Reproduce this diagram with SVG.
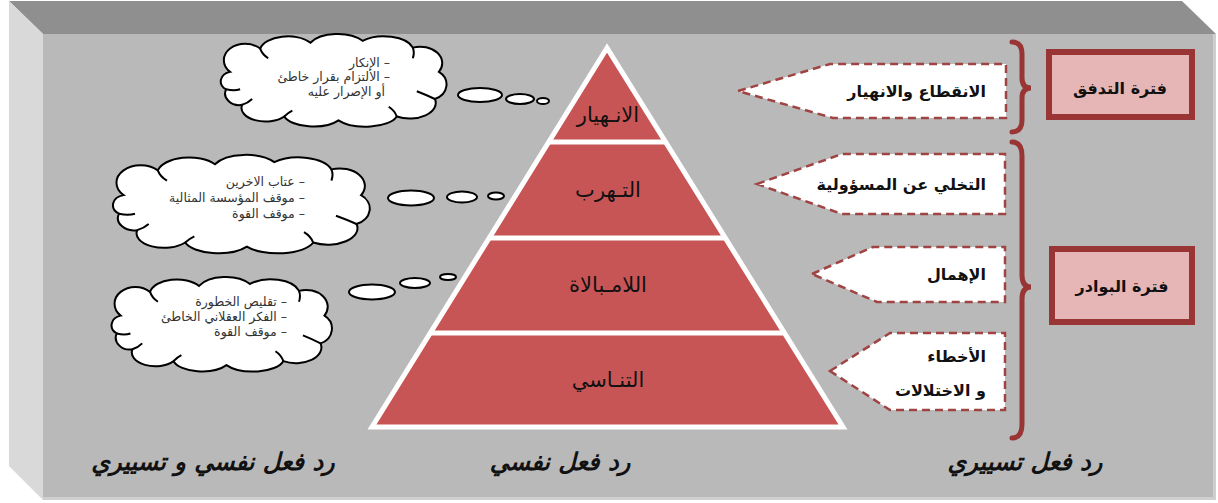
<svg xmlns="http://www.w3.org/2000/svg" width="1218" height="503" viewBox="0 0 1218 503">
  <style>
    .ar { font-family: "DejaVu Sans", "Noto Sans", sans-serif; }
    .tier { font-size: 21px; fill: #111; text-anchor: middle; }
    .note { font-size: 12.5px; fill: #333; }
    .call { font-size: 16px; font-weight: bold; fill: #111; }
    .period { font-size: 16px; font-weight: bold; fill: #111; text-anchor: middle; }
    .foot { font-size: 24px; font-weight: bold; font-style: italic; fill: #111; text-anchor: middle; }
    .arrow { fill: #fff; stroke: #a04343; stroke-width: 2.5; stroke-dasharray: 8 5; }
    .brace { fill: none; stroke: #993535; stroke-width: 5; stroke-linecap: round; }
    .pbox { fill: #e6b5b5; stroke: #993535; stroke-width: 6; }
    .bubble { fill: #fff; stroke: #000; stroke-width: 2; }
    .sep { stroke: #fff; stroke-width: 5; }
  </style>
  <defs>
    <!-- cloud outline in a 240x90 box -->
    <g id="cloud">
      <path fill="#fff" stroke="#000" stroke-width="2" vector-effect="non-scaling-stroke"
        d="M18,38 A20,16 0 0 1 48,14 A28,16 0 0 1 98,8 A30,16 0 0 1 150,6 A30,16 0 0 1 200,13
           A22,17 0 0 1 226,38 A18,16 0 0 1 222,66 A26,16 0 0 1 184,84 A32,14 0 0 1 126,88
           A30,14 0 0 1 72,84 A24,14 0 0 1 30,72 A14,12 0 0 1 14,56 A12,10 0 0 1 18,38 Z"/>
      <path fill="none" stroke="#000" stroke-width="2" vector-effect="non-scaling-stroke"
        d="M48,14 Q50,20 56,24 M200,13 Q202,18 200,24 M222,66 Q214,62 204,58 M184,84 Q182,78 176,74 M72,84 Q76,80 80,78 M30,72 Q36,70 40,66 M14,56 Q22,58 28,56"/>
    </g>
  </defs>

  <!-- raised panel -->
  <g id="panel">
    <polygon points="9,1 1182,1 1216,34 43,34" fill="#8f8f8f"/>
    <polygon points="9,1 43,34 43,500 9,466" fill="#d9d9d9"/>
    <rect x="43" y="34" width="1173" height="466" fill="#b9b9b9"/>
    <rect x="1213" y="34" width="3" height="466" fill="#cfcfcf"/>
    <rect x="43" y="497" width="1173" height="3" fill="#cfcfcf"/>
  </g>

  <!-- pyramid -->
  <g id="pyramid">
    <polygon points="607,48 372,427 843,427" fill="#c85555" stroke="#fff" stroke-width="5" stroke-linejoin="miter"/>
    <line class="sep" x1="548.7" y1="142" x2="665.3" y2="142"/>
    <line class="sep" x1="489.2" y1="238" x2="724.8" y2="238"/>
    <line class="sep" x1="430.3" y1="333" x2="783.7" y2="333"/>
  </g>
  <g id="tier-collapse"><text class="ar tier" x="608" y="122">الانـهيار</text></g>
  <g id="tier-evasion"><text class="ar tier" x="608" y="197">التـهرب</text></g>
  <g id="tier-apathy"><text class="ar tier" x="608" y="292">اللامـبالاة</text></g>
  <g id="tier-forgetting"><text class="ar tier" x="608" y="387">التنـاسي</text></g>

  <!-- thought clouds -->
  <g id="cloud-collapse">
    <use href="#cloud" transform="translate(212,35) scale(1.004,0.97)"/>
    <text class="ar note" direction="rtl" x="390" y="67">– الإنكار</text>
    <text class="ar note" direction="rtl" x="390" y="81">– الألتزام بقرار خاطئ</text>
    <text class="ar note" direction="rtl" x="385" y="96">أو الإصرار عليه</text>
    <ellipse class="bubble" cx="480" cy="95" rx="22" ry="7"/>
    <ellipse class="bubble" cx="520" cy="99" rx="14" ry="5"/>
    <ellipse class="bubble" cx="543" cy="101" rx="6" ry="3"/>
  </g>
  <g id="cloud-evasion">
    <use href="#cloud" transform="translate(103,156) scale(1.142,1.03)"/>
    <text class="ar note" direction="rtl" x="305" y="186">– عتاب الاخرين</text>
    <text class="ar note" direction="rtl" x="305" y="202">– موقف المؤسسة المثالية</text>
    <text class="ar note" direction="rtl" x="305" y="218">– موقف القوة</text>
    <ellipse class="bubble" cx="411" cy="198" rx="23" ry="7.5"/>
    <ellipse class="bubble" cx="462" cy="197" rx="15" ry="5.5"/>
    <ellipse class="bubble" cx="496" cy="196" rx="8" ry="3.5"/>
  </g>
  <g id="cloud-apathy">
    <use href="#cloud" transform="translate(103,278) scale(0.98,0.99)"/>
    <ellipse class="bubble" cx="372" cy="292" rx="23" ry="7.5"/>
    <ellipse class="bubble" cx="415" cy="283" rx="15" ry="5"/>
    <ellipse class="bubble" cx="448" cy="277" rx="8" ry="3"/>
    <text class="ar note" direction="rtl" x="287" y="306">– تقليص الخطورة</text>
    <text class="ar note" direction="rtl" x="287" y="321">– الفكر العقلاني الخاطئ</text>
    <text class="ar note" direction="rtl" x="287" y="336">– موقف القوة</text>
  </g>

  <!-- behaviour callouts -->
  <g id="call-breakdown">
    <polygon class="arrow" points="738,91 830,64 1006,64 1006,118 833,118"/>
    <text class="ar call" direction="rtl" x="986" y="97">الانقطاع والانهيار</text>
  </g>
  <g id="call-abdication">
    <polygon class="arrow" points="757,184 842,154 1005,154 1005,214 842,214"/>
    <text class="ar call" direction="rtl" x="986" y="190">التخلي عن المسؤولية</text>
  </g>
  <g id="call-neglect">
    <polygon class="arrow" points="812,274 873,247 1005,247 1005,302 877,302"/>
    <text class="ar call" direction="rtl" x="986" y="280">الإهمال</text>
  </g>
  <g id="call-errors">
    <polygon class="arrow" points="830,371 890,333 1005,333 1005,410 890,410"/>
    <text class="ar call" direction="rtl" x="986" y="362">الأخطاء</text>
    <text class="ar call" direction="rtl" x="986" y="396">و الاختلالات</text>
  </g>

  <!-- braces -->
  <g id="braces">
    <path class="brace" d="M1012,42 Q1022,42 1022,54 L1022,78 Q1022,88 1031,88 Q1022,88 1022,98 L1022,120 Q1022,132 1012,132"/>
    <path class="brace" d="M1012,142 Q1022,142 1022,156 L1022,275 Q1022,287 1031,287 Q1022,287 1022,299 L1022,424 Q1022,438 1012,438"/>
  </g>

  <!-- periods -->
  <g id="period-flow">
    <rect class="pbox" x="1049" y="52" width="143" height="65"/>
    <text class="ar period" x="1120" y="94">فترة التدفق</text>
  </g>
  <g id="period-signs">
    <rect class="pbox" x="1052" y="249" width="140" height="73"/>
    <text class="ar period" x="1122" y="292">فترة البوادر</text>
  </g>

  <!-- column captions -->
  <g id="caption-left"><text class="ar foot" x="213" y="470">رد فعل نفسي و تسييري</text></g>
  <g id="caption-mid"><text class="ar foot" x="560" y="470">رد فعل نفسي</text></g>
  <g id="caption-right"><text class="ar foot" x="1025" y="470">رد فعل تسييري</text></g>
</svg>
